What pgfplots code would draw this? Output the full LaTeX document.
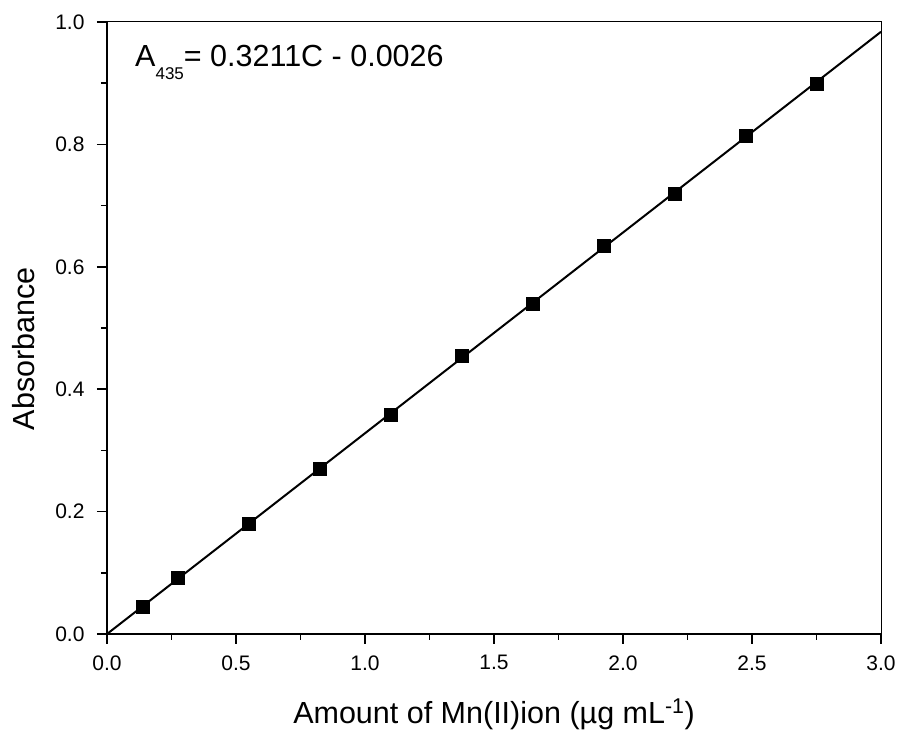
\documentclass[border=0pt]{standalone}
\usepackage{fontspec}
\setmainfont{Liberation Sans}
\usepackage{pgfplots}
\pgfplotsset{compat=1.18}
\begin{document}
\begin{tikzpicture}
\path[use as bounding box] (-107pt,-99pt) rectangle (794pt,634pt);
\begin{axis}[
  at={(0pt,0pt)}, anchor=south west,
  width=774pt, height=612pt, scale only axis,
  xmin=0, xmax=3, ymin=0, ymax=1,
  axis line style={line width=1pt},
  xtick pos=bottom, ytick pos=left,
  xtick={0,0.5,1,1.5,2,2.5,3},
  ytick={0,0.2,0.4,0.6,0.8,1.0},
  minor x tick num=1, minor y tick num=1,
  tick align=outside,
  major tick length=10pt, minor tick length=6pt,
  major tick style={line width=1.6pt, black},
  minor tick style={line width=1.6pt, black},
  /pgf/number format/assume math mode=true,
  xticklabel={\pgfmathprintnumber[fixed,fixed zerofill,precision=1]{\tick}},
  yticklabel={\pgfmathprintnumber[fixed,fixed zerofill,precision=1]{\tick}},
  tick label style={font=\fontsize{21}{21}\selectfont},
  xticklabel shift=8pt, yticklabel shift=9pt,
  xlabel={Amount of Mn(II)ion (µg mL\textsuperscript{-1})},
  ylabel={Absorbance},
  label style={font=\fontsize{30.5}{30.5}\selectfont},
  xlabel style={at={(axis description cs:0.5,0)}, anchor=base, yshift=-89pt},
  ylabel style={at={(axis description cs:0,0.466)}, anchor=base, yshift=72pt},
  clip=false,
]
\addplot[black, line width=2pt, no marks] coordinates {(0,0) (3,0.984)};
\addplot[only marks, mark=square*, mark size=6.5pt, black] coordinates {
  (0.1375,0.044) (0.275,0.0915) (0.55,0.181) (0.825,0.270) (1.1,0.359)
  (1.375,0.454) (1.65,0.539) (1.925,0.634) (2.2,0.719) (2.475,0.814) (2.75,0.899)
};
\draw[line width=1.6pt] (rel axis cs:0,1) -- (rel axis cs:0,0) -- (rel axis cs:1,0);
\node[anchor=base west, inner sep=0pt, font=\fontsize{30.5}{30.5}\selectfont]
  at (rel axis cs:0.0362,0.9265) {A\raisebox{-13pt}{\fontsize{17}{17}\selectfont 435}= 0.3211C - 0.0026};
\end{axis}
\end{tikzpicture}
\end{document}
